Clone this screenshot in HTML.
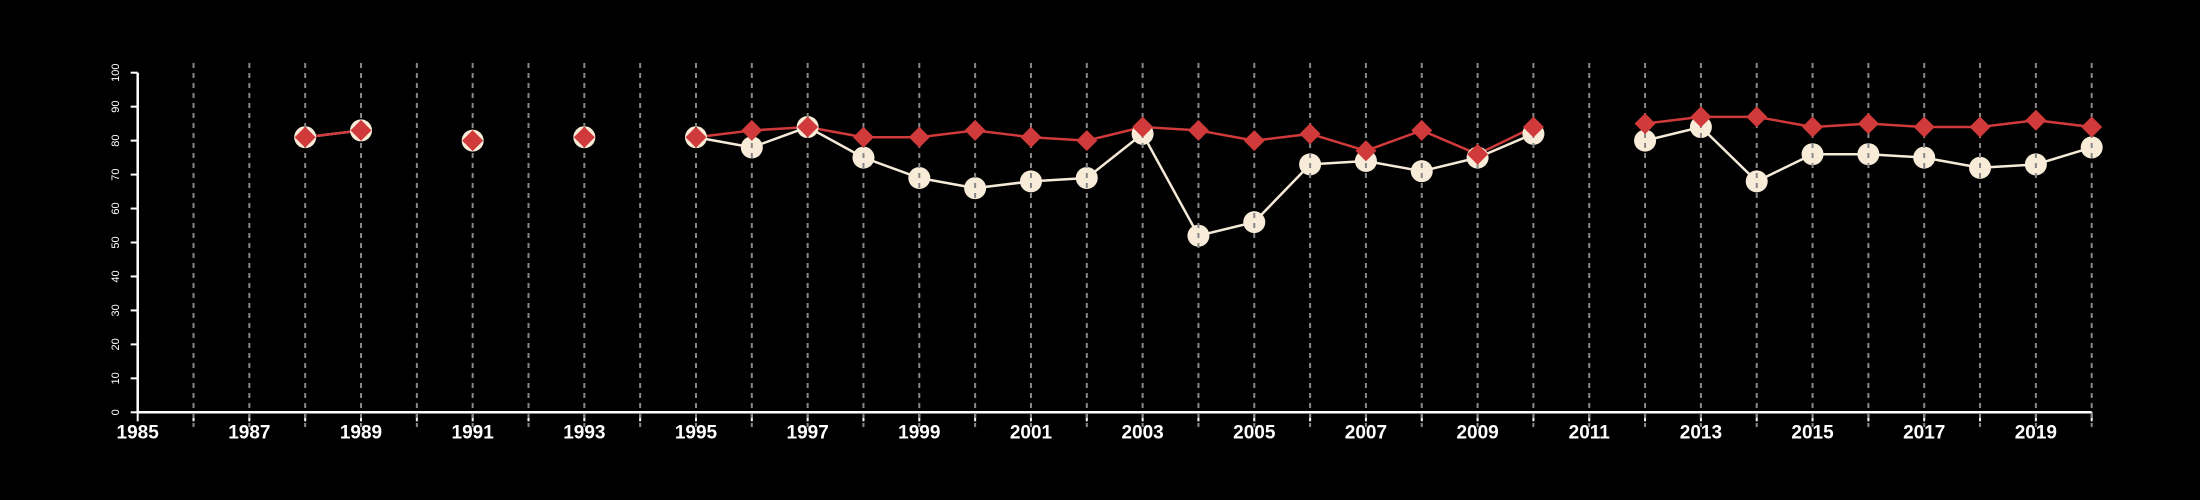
<!DOCTYPE html>
<html><head><meta charset="utf-8"><style>html,body{margin:0;background:#000;}svg{display:block;font-family:"Liberation Sans",sans-serif;}</style></head>
<body>
<svg id="chart" width="2200" height="500" xmlns="http://www.w3.org/2000/svg">
<rect width="2200" height="500" fill="#000"/>
</svg>
<script>
const years = [1988,1989,1990,1991,1992,1993,1994,1995,1996,1997,1998,1999,2000,2001,2002,2003,2004,2005,2006,2007,2008,2009,2010,2011,2012,2013,2014,2015,2016,2017,2018,2019,2020];
const whiteSeries = [81,83,null,80,null,81,null,81,78,84,75,69,66,68,69,82,52,56,73,74,71,75,82,null,80,84,68,76,76,75,72,73,78];
const redSeries = [81,83,null,80,null,81,null,81,83,84,81,81,83,81,80,84,83,80,82,77,83,76,84,null,85,87,87,84,85,84,84,86,84];
const yTicks = [0,10,20,30,40,50,60,70,80,90,100];
const xTickLabels = [1985,1987,1989,1991,1993,1995,1997,1999,2001,2003,2005,2007,2009,2011,2013,2015,2017,2019];

const NS="http://www.w3.org/2000/svg";
const svg=document.getElementById('chart');
const x0=137.7,x1=2091.7,y0=412.3,y1=72.7;
const xs=v=>x0+(v-1985)*(x1-x0)/35;
const ys=v=>y0+(v-0)*(y1-y0)/100;
function mk(tag,attrs,parent){const e=document.createElementNS(NS,tag);for(const k in attrs)e.setAttribute(k,attrs[k]);(parent||svg).appendChild(e);return e;}

// axes
const ax=mk('g',{});


mk('line',{x1:x0,x2:x1,y1:y0,y2:y0,stroke:'#fff','stroke-width':2.5},ax);
for(let yr=1985;yr<=2020;yr++){mk('line',{x1:xs(yr),x2:xs(yr),y1:y0,y2:y0+9,stroke:'#fff','stroke-width':2},ax);}
xTickLabels.forEach(t=>{const tx=mk('text',{x:xs(t),y:y0+26,fill:'#fff','font-size':19,'font-weight':'bold','text-anchor':'middle'},ax);tx.textContent=t;

});
const ay=mk('g',{});


mk('line',{x1:x0,x2:x0,y1:y0,y2:y1,stroke:'#fff','stroke-width':2.5},ay);
yTicks.forEach(t=>{mk('line',{x1:x0-7,x2:x0,y1:ys(t),y2:ys(t),stroke:'#fff','stroke-width':2},ay);
const tx=mk('text',{x:0,y:0,fill:'#fff','font-size':11,'text-anchor':'middle',transform:`translate(119,${ys(t)}) rotate(-90)`},ay);tx.textContent=t;

});

function drawLine(vals,color,name){
 const g=mk('g',{});
 
 
 for(let i=1;i<years.length;i++){if(vals[i]!=null&&vals[i-1]!=null){mk('line',{x1:xs(years[i-1]),y1:ys(vals[i-1]),x2:xs(years[i]),y2:ys(vals[i]),stroke:color,'stroke-width':2.5},g);}}
}
drawLine(whiteSeries,'#f5ead8','white-series-line');
drawLine(redSeries,'#d03a3a','red-series-line');
const gw=mk('g',{});


years.forEach((yr,i)=>{if(whiteSeries[i]!=null){const c=mk('circle',{cx:xs(yr),cy:ys(whiteSeries[i]),r:11,fill:'#f8ebd8'},gw);

}});
// grid
const gg=mk('g',{});


for(let yr=1986;yr<=2020;yr++){mk('line',{x1:xs(yr),x2:xs(yr),y1:63,y2:427,stroke:'#888','stroke-width':2,'stroke-dasharray':'5,5'},gg);}
const gr=mk('g',{});


years.forEach((yr,i)=>{if(redSeries[i]!=null){const cx=xs(yr),cy=ys(redSeries[i]),d=10.5;const p=mk('polygon',{points:`${cx},${cy-d} ${cx+d},${cy} ${cx},${cy+d} ${cx-d},${cy}`,fill:'#d03a3a'},gr);

}});
</script>
</body></html>
